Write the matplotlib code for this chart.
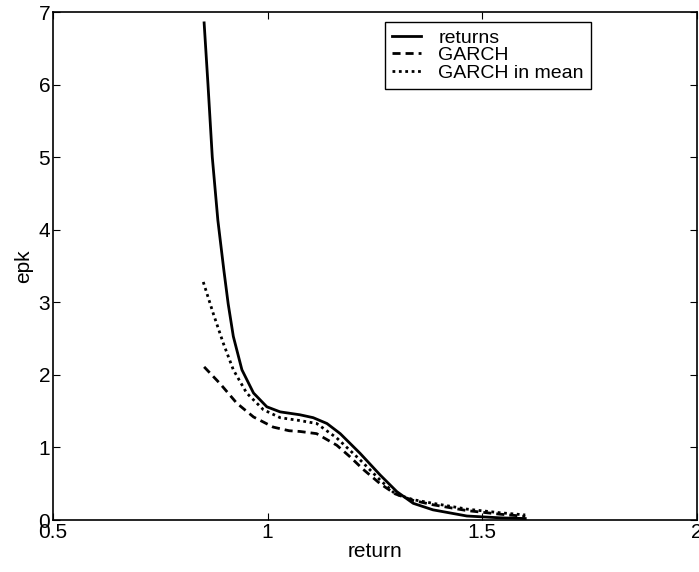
import matplotlib
matplotlib.use('Agg')
import matplotlib.pyplot as plt

# values
ret_x = [0.852, 0.861, 0.871, 0.884, 0.898, 0.908, 0.920, 0.940, 0.967, 0.998, 1.029,
         1.075, 1.106, 1.138, 1.169, 1.215, 1.262, 1.301, 1.339, 1.385, 1.464, 1.541, 1.600]
ret_y = [6.85, 6.00, 5.00, 4.13, 3.44, 2.98, 2.53, 2.07, 1.75, 1.56, 1.49,
         1.45, 1.41, 1.33, 1.19, 0.92, 0.62, 0.39, 0.23, 0.14, 0.055, 0.03, 0.02]

garch_x = [0.852, 0.889, 0.928, 0.967, 1.013, 1.050, 1.075, 1.114, 1.161, 1.192,
           1.222, 1.262, 1.297, 1.339, 1.385, 1.464, 1.541, 1.600]
garch_y = [2.11, 1.88, 1.61, 1.42, 1.28, 1.23, 1.22, 1.19, 1.03, 0.87,
           0.70, 0.50, 0.36, 0.27, 0.21, 0.13, 0.08, 0.05]

mean_x = [0.850, 0.873, 0.897, 0.920, 0.951, 0.990, 1.029, 1.075, 1.114, 1.161,
          1.215, 1.262, 1.297, 1.339, 1.385, 1.464, 1.541, 1.600]
mean_y = [3.28, 2.85, 2.43, 2.07, 1.75, 1.52, 1.41, 1.37, 1.33, 1.13,
          0.83, 0.55, 0.36, 0.28, 0.23, 0.15, 0.10, 0.07]

x_ticks = [0.5, 1, 1.5, 2]
x_labels = ['0.5', '1', '1.5', '2']
y_ticks = [0, 1, 2, 3, 4, 5, 6, 7]

plt.rcParams['font.family'] = ['Liberation Sans', 'DejaVu Sans']

fig = plt.figure(figsize=(6.99, 5.72), dpi=100)
ax = fig.add_axes([53 / 699, 52 / 572, 644 / 699, 508 / 572])

ax.plot(ret_x, ret_y, color='black', lw=2, label='returns')
ax.plot(garch_x, garch_y, color='black', lw=2, dashes=(2.9, 1.8), label='GARCH')
ax.plot(mean_x, mean_y, color='black', lw=2, dashes=(1, 1.3), label='GARCH in mean')

ax.set_xlim(0.5, 2)
ax.set_ylim(0, 7)
ax.set_xticks(x_ticks)
ax.set_xticklabels(x_labels)
ax.set_yticks(y_ticks)
ax.tick_params(direction='in', length=5, width=0.8, labelsize=15, pad=2,
               top=True, right=True)
for s in ax.spines.values():
    s.set_linewidth(1.2)

ax.set_xlabel('return', fontsize=15, labelpad=0)
ax.set_ylabel('epk', fontsize=15, labelpad=4)

leg = ax.legend(loc='upper right', bbox_to_anchor=(0.835, 0.98), borderaxespad=0,
                fontsize=14, handlelength=1.5, handletextpad=0.9, labelspacing=0.0,
                borderpad=0.35, fancybox=False, framealpha=1, edgecolor='black')
leg.get_frame().set_linewidth(1.0)

fig.savefig('out.png', dpi=100)
